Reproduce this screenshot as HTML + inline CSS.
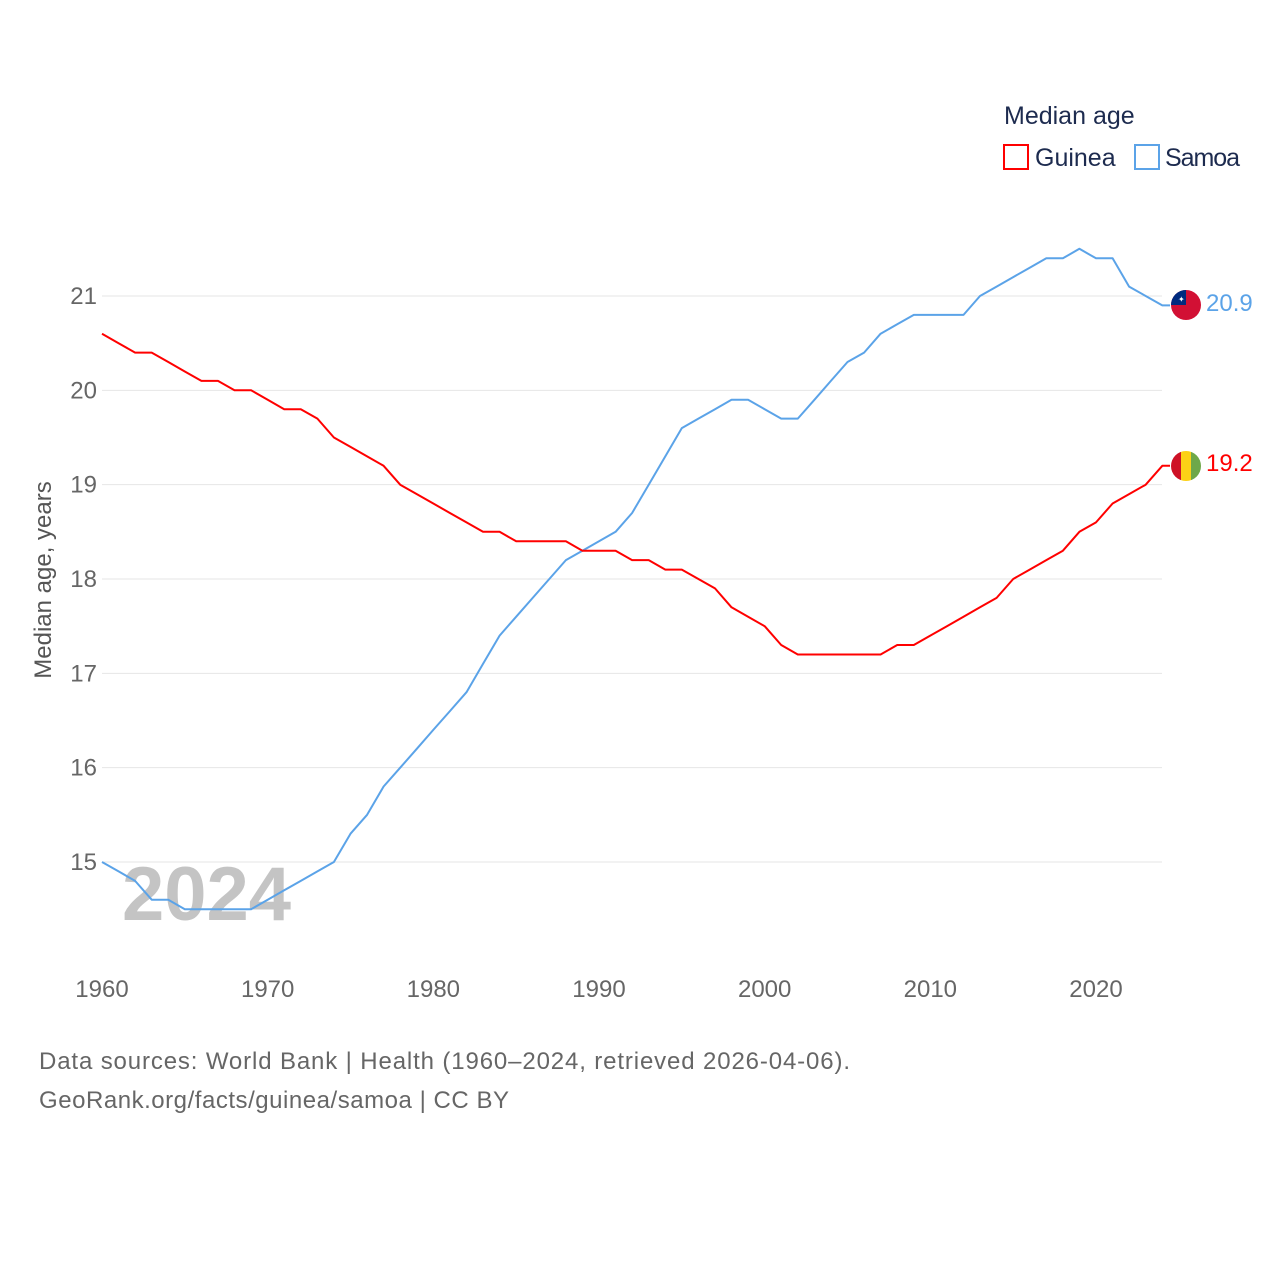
<!DOCTYPE html>
<html><head><meta charset="utf-8"><style>
html,body{margin:0;padding:0;background:#fff;}
body{width:1280px;height:1280px;overflow:hidden;font-family:"Liberation Sans",sans-serif;}
svg text{font-family:"Liberation Sans",sans-serif;}
</style></head><body>
<svg id="chart" width="1280" height="1280" xmlns="http://www.w3.org/2000/svg">
<g id="grid"></g>
<g id="yticks"></g>
<g id="xticks"></g>
<text x="122" y="920" font-size="76" font-weight="bold" fill="#c4c4c4">2024</text>
<text transform="translate(51,580) rotate(-90)" text-anchor="middle" font-size="24" fill="#555">Median age, years</text>
<g id="series"></g>
<g>
<text x="1004" y="124" font-size="25" fill="#1d2b4f">Median age</text>
<rect x="1004" y="145" width="24" height="24" fill="none" stroke="#f00" stroke-width="2"/>
<text x="1035" y="166" font-size="25" fill="#1d2b4f">Guinea</text>
<rect x="1135" y="145" width="24" height="24" fill="none" stroke="#5ba3e8" stroke-width="2"/>
<text x="1165" y="166" font-size="25" fill="#1d2b4f" textLength="75">Samoa</text>
</g>
<g>
<circle cx="1186" cy="305" r="15" fill="#d21034"/>
<path d="M1171,305 A15,15 0 0 1 1186,290 L1186,305 Z" fill="#002b7f"/>
<text x="1178" y="302" font-size="8" fill="#fff">✦</text>
</g>
<text x="1206" y="311" font-size="24" fill="#5ba3e8">20.9</text>
<g>
<clipPath id="gc"><circle cx="1186" cy="466" r="15"/></clipPath>
<g clip-path="url(#gc)"><rect x="1171" y="451" width="10" height="30" fill="#ce1126"/><rect x="1181" y="451" width="10" height="30" fill="#fcd116"/><rect x="1191" y="451" width="10" height="30" fill="#6ea84a"/></g>
</g>
<text x="1206" y="471" font-size="24" fill="#f00">19.2</text>
<text x="39" y="1069" font-size="24" fill="#666" textLength="811">Data sources: World Bank | Health (1960–2024, retrieved 2026-04-06).</text>
<text x="39" y="1108" font-size="24" fill="#666" textLength="470">GeoRank.org/facts/guinea/samoa | CC BY</text>
</svg>
<script>
const years=[];for(let y=1960;y<=2024;y++)years.push(y);
const guinea=[20.6,20.5,20.4,20.4,20.3,20.2,20.1,20.1,20.0,20.0,19.9,19.8,19.8,19.7,19.5,19.4,19.3,19.2,19.0,18.9,18.8,18.7,18.6,18.5,18.5,18.4,18.4,18.4,18.4,18.3,18.3,18.3,18.2,18.2,18.1,18.1,18.0,17.9,17.7,17.6,17.5,17.3,17.2,17.2,17.2,17.2,17.2,17.2,17.3,17.3,17.4,17.5,17.6,17.7,17.8,18.0,18.1,18.2,18.3,18.5,18.6,18.8,18.9,19.0,19.2];
const samoa=[15.0,14.9,14.8,14.6,14.6,14.5,14.5,14.5,14.5,14.5,14.6,14.7,14.8,14.9,15.0,15.3,15.5,15.8,16.0,16.2,16.4,16.6,16.8,17.1,17.4,17.6,17.8,18.0,18.2,18.3,18.4,18.5,18.7,19.0,19.3,19.6,19.7,19.8,19.9,19.9,19.8,19.7,19.7,19.9,20.1,20.3,20.4,20.6,20.7,20.8,20.8,20.8,20.8,21.0,21.1,21.2,21.3,21.4,21.4,21.5,21.4,21.4,21.1,21.0,20.9];
const yTicks=[15,16,17,18,19,20,21];
const xTicks=[1960,1970,1980,1990,2000,2010,2020];
const NS="http://www.w3.org/2000/svg";
const xs=y=>102+(y-1960)*(1096-102)/60;
const ys=v=>862-(v-15)*(566/6);
function mk(tag,attrs,parent){const e=document.createElementNS(NS,tag);for(const k in attrs)e.setAttribute(k,attrs[k]);parent.appendChild(e);return e;}
const grid=document.getElementById('grid'),yt=document.getElementById('yticks'),xt=document.getElementById('xticks'),ser=document.getElementById('series');
yTicks.forEach(v=>{
 const l=mk('line',{x1:102,x2:1162,y1:ys(v),y2:ys(v),stroke:'#e6e6e6','stroke-width':1},grid);
 
 
 const t=mk('text',{x:97,y:ys(v)+8,'text-anchor':'end','font-size':24,fill:'#666'},yt);
 t.textContent=v;
 
 
});
xTicks.forEach(v=>{
 const t=mk('text',{x:xs(v),y:997,'text-anchor':'middle','font-size':24,fill:'#666'},xt);
 t.textContent=v;
 
 
});
function line(data,color,name){
 let d=data.map((v,i)=>(i?'L':'M')+xs(years[i]).toFixed(1)+','+ys(v).toFixed(1)).join('');
 d+='L1170,'+ys(data[data.length-1]).toFixed(1);
 const p=mk('path',{d:d,fill:'none',stroke:color,'stroke-width':2,'stroke-linejoin':'round'},ser);
 
 
}
line(samoa,'#5ba3e8','line-samoa');
line(guinea,'#f00','line-guinea');
</script>
</body></html>
